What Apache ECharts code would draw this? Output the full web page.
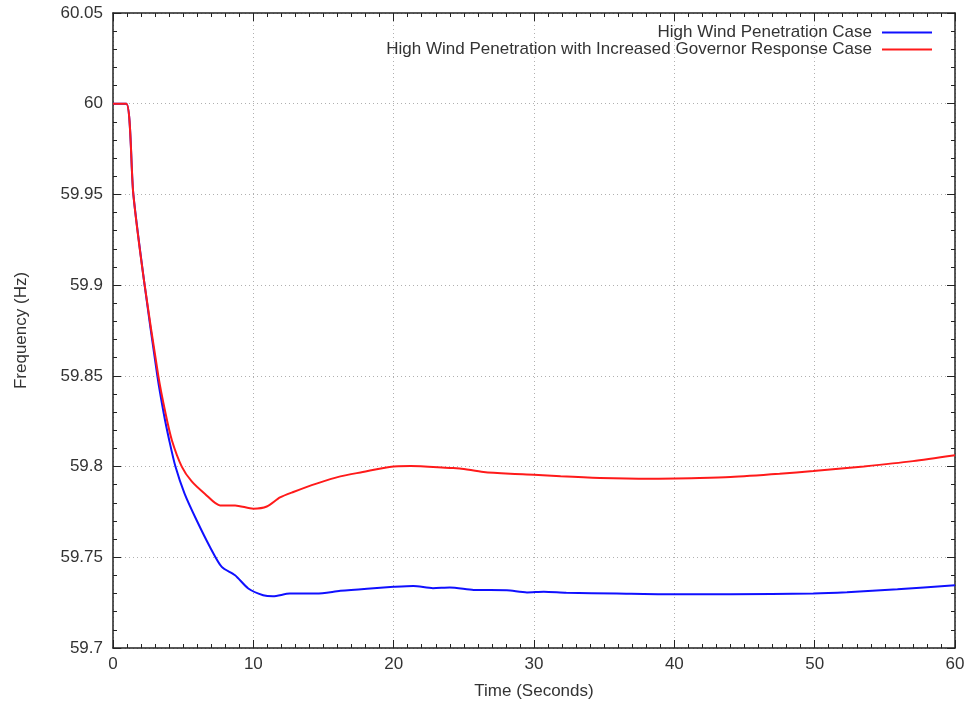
<!DOCTYPE html>
<html>
<head>
<meta charset="utf-8">
<script src="https://cdn.jsdelivr.net/npm/echarts@6/dist/echarts.min.js"></script>
<style>html,body{margin:0;padding:0;background:#fff}#c{width:969px;height:706px}</style>
</head>
<body>
<div id="c"></div>
<script>
const seriesNames = ['High Wind Penetration Case', 'High Wind Penetration with Increased Governor Response Case'];
const xTicks = [0, 10, 20, 30, 40, 50, 60];
const yTicks = [59.7, 59.75, 59.8, 59.85, 59.9, 59.95, 60, 60.05];

const timeBase = [0, 0.95, 1.45, 2.21, 3.16, 3.62, 4.01, 4.45, 5.1, 5.96, 6.91, 7.75, 8.7, 9.64, 10.7, 11.4, 12.6, 14.5, 16.2, 18.1, 20, 21.4, 22.8, 24, 25.7, 28.06, 29.5, 30.7, 32.3, 35.9, 39.5, 44, 49.9, 52.3, 55.9, 60];
const freqBase = [60, 60, 59.95, 59.9025, 59.85, 59.8291, 59.8144, 59.8, 59.7851, 59.7704, 59.7557, 59.7447, 59.7401, 59.7328, 59.7291, 59.7285, 59.730, 59.730, 59.7315, 59.7327, 59.7337, 59.7342, 59.733, 59.7333, 59.732, 59.7318, 59.7306, 59.731, 59.7304, 59.730, 59.7296, 59.7296, 59.730, 59.7307, 59.7324, 59.7346];

const timeGov = [0, 0.95, 1.45, 2.21, 3.23, 3.75, 4.2, 4.9, 5.61, 6.56, 7.63, 8.7, 10, 10.96, 11.9, 12.85, 14.5, 16.2, 17.8, 19.7, 21.2, 24, 24.7, 26.4, 28.3, 30, 31.9, 34.7, 38.3, 41.8, 44, 47.5, 49.9, 53.5, 57, 60];
const freqGov = [60, 60, 59.95, 59.9025, 59.85, 59.8291, 59.8144, 59.8, 59.7918, 59.7849, 59.7786, 59.7786, 59.7768, 59.778, 59.783, 59.786, 59.7906, 59.7946, 59.797, 59.7998, 59.8003, 59.7992, 59.799, 59.797, 59.796, 59.7955, 59.7946, 59.7937, 59.7933, 59.7937, 59.7942, 59.796, 59.7975, 59.8001, 59.803, 59.8062];

const FONT = 'Liberation Sans, Arial, sans-serif';
const TXT = '#333';
const AX = '#222';

function pairs(t, f) { return t.map((v, i) => [v, f[i]]); }

const frameAxis = (extra) => Object.assign({
  type: 'value',
  axisLine: { show: true, onZero: false, lineStyle: { color: AX, width: 1.5 } },
  axisTick: { show: true, inside: true, length: 8, lineStyle: { color: AX, width: 1 } },
}, extra);

const legendBase = {
  right: 32, align: 'right', itemWidth: 50, itemHeight: 2, icon: 'rect',
  textStyle: { fontFamily: FONT, fontSize: 17, color: TXT, padding: [0, 5, 0, 0] },
  selectedMode: false
};

const chart = echarts.init(document.getElementById('c'), null, { renderer: 'canvas' });
chart.setOption({
  animation: false,
  backgroundColor: '#fff',
  grid: { left: 113, right: 14, top: 13, bottom: 58, containLabel: false },
  legend: [
    Object.assign({ data: [seriesNames[0]], top: 19 }, legendBase),
    Object.assign({ data: [seriesNames[1]], top: 36 }, legendBase)
  ],
  xAxis: [
    frameAxis({
      position: 'bottom', min: xTicks[0], max: xTicks[xTicks.length - 1], interval: 10,
      minorTick: { show: true, splitNumber: 10, length: 4, lineStyle: { color: AX, width: 1 } },
      name: 'Time (Seconds)', nameLocation: 'middle', nameGap: 35,
      nameTextStyle: { fontFamily: FONT, fontSize: 17, color: TXT },
      axisLabel: { fontFamily: FONT, fontSize: 17, color: TXT, margin: 8 },
      splitLine: { show: true, lineStyle: { color: '#b0b0b0', type: [1, 3], width: 1 } }
    }),
    frameAxis({
      position: 'top', min: xTicks[0], max: xTicks[xTicks.length - 1], interval: 10,
      minorTick: { show: true, splitNumber: 10, length: 4, lineStyle: { color: AX, width: 1 } },
      axisLabel: { show: false }, splitLine: { show: false }
    })
  ],
  yAxis: [
    frameAxis({
      position: 'left', min: yTicks[0], max: yTicks[yTicks.length - 1], interval: 0.05,
      minorTick: { show: true, splitNumber: 5, length: 4, lineStyle: { color: AX, width: 1 } },
      name: 'Frequency (Hz)', nameLocation: 'middle', nameGap: 83, nameRotate: 90,
      nameTextStyle: { fontFamily: FONT, fontSize: 17, color: TXT },
      axisLabel: { fontFamily: FONT, fontSize: 17, color: TXT, margin: 10,
        formatter: v => String(+v.toFixed(2)) },
      splitLine: { show: true, lineStyle: { color: '#b0b0b0', type: [1, 3], width: 1 } }
    }),
    frameAxis({
      position: 'right', min: yTicks[0], max: yTicks[yTicks.length - 1], interval: 0.05,
      minorTick: { show: true, splitNumber: 5, length: 4, lineStyle: { color: AX, width: 1 } },
      axisLabel: { show: false }, splitLine: { show: false }
    })
  ],
  series: [
    { name: seriesNames[0], type: 'line', xAxisIndex: 0, yAxisIndex: 0, data: pairs(timeBase, freqBase),
      symbol: 'none', smooth: 0.25, color: '#1010ff',
      lineStyle: { color: '#1010ff', width: 2 } },
    { name: seriesNames[1], type: 'line', xAxisIndex: 0, yAxisIndex: 0, data: pairs(timeGov, freqGov),
      symbol: 'none', smooth: 0.25, color: '#ff1a1a',
      lineStyle: { color: '#ff1a1a', width: 2 } }
  ]
});
</script>
</body>
</html>
